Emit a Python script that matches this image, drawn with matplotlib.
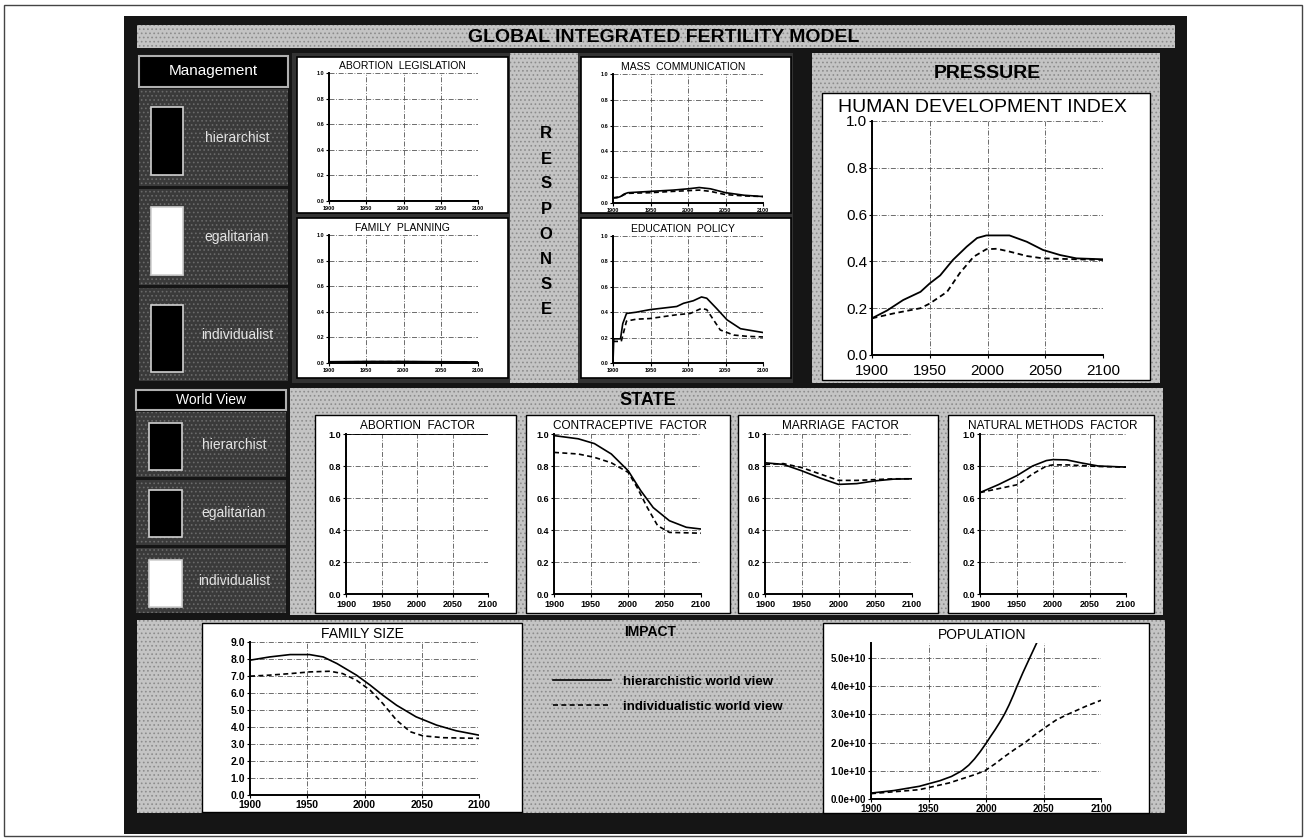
import matplotlib
matplotlib.use("Agg")
import matplotlib.pyplot as plt
from matplotlib.patches import Rectangle
from matplotlib.ticker import FormatStrFormatter, FuncFormatter

plt.rcParams['font.family'] = ['Liberation Sans', 'DejaVu Sans']
plt.rcParams['hatch.linewidth'] = 0.7

# ---- data (hier = solid, indiv = dashed) ----
x_ticks = [1900, 1950, 2000, 2050, 2100]
unit_ticks = [0.0, 0.2, 0.4, 0.6, 0.8, 1.0]
fs_ticks = [0, 1, 2, 3, 4, 5, 6, 7, 8, 9]
pop_ticks = [0.0, 1.0e10, 2.0e10, 3.0e10, 4.0e10, 5.0e10]

abl_years = [1900, 2100]
abl_hier = [0.0, 0.0]
abl_indiv = [0.0, 0.0]

fp_years = [1900, 1950, 2000, 2050, 2100]
fp_hier = [0.01, 0.012, 0.012, 0.01, 0.008]
fp_indiv = [0.008, 0.01, 0.01, 0.008, 0.006]

mc_hier_years = [1900, 1905, 1910, 1915, 1920, 1950, 1980, 2000, 2015, 2030, 2050, 2075, 2100]
mc_hier = [0.04, 0.04, 0.05, 0.07, 0.08, 0.09, 0.10, 0.11, 0.12, 0.11, 0.08, 0.06, 0.05]
mc_indiv_years = [1900, 1910, 1915, 1920, 1950, 1980, 2015, 2030, 2050, 2075, 2100]
mc_indiv = [0.04, 0.05, 0.065, 0.075, 0.08, 0.09, 0.10, 0.09, 0.065, 0.055, 0.05]

ep_hier_years = [1900, 1901, 1910, 1913, 1918, 1931, 1949, 1985, 1994, 2007, 2018, 2025, 2038, 2052, 2070, 2100]
ep_hier = [0.0, 0.19, 0.19, 0.31, 0.39, 0.40, 0.42, 0.445, 0.47, 0.49, 0.52, 0.51, 0.43, 0.34, 0.27, 0.24]
ep_indiv_years = [1900, 1911, 1918, 1931, 1949, 1985, 2003, 2018, 2025, 2043, 2061, 2079, 2100]
ep_indiv = [0.17, 0.17, 0.33, 0.345, 0.35, 0.38, 0.39, 0.43, 0.42, 0.26, 0.22, 0.21, 0.205]

hdi_hier_years = [1900, 1913, 1927, 1942, 1950, 1959, 1970, 1982, 1991, 1999, 2019, 2034, 2048, 2063, 2077, 2100]
hdi_hier = [0.157, 0.19, 0.235, 0.27, 0.306, 0.34, 0.406, 0.463, 0.50, 0.511, 0.511, 0.484, 0.449, 0.427, 0.413, 0.409]
hdi_indiv_years = [1900, 1919, 1942, 1950, 1965, 1976, 1988, 1999, 2008, 2019, 2034, 2048, 2100]
hdi_indiv = [0.157, 0.178, 0.20, 0.22, 0.27, 0.35, 0.42, 0.452, 0.454, 0.442, 0.423, 0.413, 0.406]

af_years = [1900, 2100]
af_hier = [1.0, 1.0]
af_indiv = [1.0, 1.0]

cf_hier_years = [1900, 1933, 1955, 1978, 2001, 2018, 2035, 2057, 2080, 2100]
cf_hier = [0.99, 0.97, 0.94, 0.875, 0.77, 0.646, 0.54, 0.458, 0.417, 0.406]
cf_indiv_years = [1900, 1933, 1955, 1978, 2001, 2013, 2027, 2041, 2057, 2100]
cf_indiv = [0.885, 0.875, 0.854, 0.82, 0.76, 0.667, 0.54, 0.427, 0.385, 0.38]

mf_years = [1900, 1925, 1950, 1975, 2000, 2025, 2050, 2075, 2100]
mf_hier = [0.82, 0.81, 0.77, 0.725, 0.685, 0.69, 0.707, 0.718, 0.72]
mf_indiv = [0.81, 0.815, 0.79, 0.75, 0.71, 0.71, 0.715, 0.72, 0.72]

nm_years = [1900, 1925, 1951, 1972, 1991, 2000, 2019, 2038, 2062, 2100]
nm_hier = [0.634, 0.683, 0.741, 0.80, 0.834, 0.84, 0.838, 0.82, 0.80, 0.793]
nm_indiv = [0.634, 0.658, 0.683, 0.75, 0.80, 0.807, 0.807, 0.803, 0.797, 0.793]

fs_hier_years = [1900, 1917, 1935, 1952, 1964, 1976, 1993, 2005, 2016, 2028, 2045, 2063, 2080, 2100]
fs_hier = [7.93, 8.12, 8.26, 8.26, 8.12, 7.73, 7.05, 6.46, 5.87, 5.28, 4.6, 4.11, 3.78, 3.52]
fs_indiv_years = [1900, 1917, 1935, 1952, 1970, 1981, 1993, 2005, 2016, 2028, 2040, 2051, 2069, 2100]
fs_indiv = [6.99, 7.05, 7.14, 7.24, 7.28, 7.14, 6.75, 6.16, 5.38, 4.4, 3.72, 3.48, 3.37, 3.33]

pop_hier_years = [1900, 1920, 1942, 1960, 1970, 1979, 1985, 1990, 1995, 2000, 2004, 2008,
                  2012, 2016, 2020, 2024, 2027, 2032, 2038, 2046]
pop_hier = [0.21e10, 0.30e10, 0.45e10, 0.65e10, 0.80e10, 1.0e10, 1.2e10, 1.42e10, 1.68e10,
            1.97e10, 2.22e10, 2.46e10, 2.72e10, 3.0e10, 3.33e10, 3.7e10, 4.0e10, 4.47e10,
            5.0e10, 5.7e10]
pop_indiv_years = [1900, 1942, 1968, 1990, 1999, 2008, 2016, 2025, 2034, 2043, 2052, 2061,
                   2071, 2087, 2100]
pop_indiv = [0.19e10, 0.33e10, 0.57e10, 0.86e10, 1.0e10, 1.25e10, 1.5e10, 1.76e10, 2.0e10,
             2.29e10, 2.55e10, 2.8e10, 3.0e10, 3.29e10, 3.5e10]

legend_labels = ["hierarchistic world view", "individualistic world view"]
buttons = ["hierarchist", "egalitarian", "individualist"]

# ---- figure in pixel coordinates ----
W, H = 1304, 838
fig = plt.figure(figsize=(W / 100, H / 100), dpi=100)
bg = fig.add_axes([0, 0, 1, 1], zorder=0)
bg.set_xlim(0, W)
bg.set_ylim(H, 0)
bg.axis('off')


def rect(x0, y0, x1, y1):
    return [x0 / W, 1 - y1 / H, (x1 - x0) / W, (y1 - y0) / H]


def box(x0, y0, x1, y1, fc, ec='none', lw=0, hatch=None, hc=None):
    bg.add_patch(Rectangle((x0, y0), x1 - x0, y1 - y0, fc=fc, ec=ec, lw=lw))
    if hatch:
        bg.add_patch(Rectangle((x0, y0), x1 - x0, y1 - y0, fill=False,
                               hatch=hatch, ec=hc, lw=0))


def light(x0, y0, x1, y1):
    box(x0, y0, x1, y1, '#c4c4c4', hatch='....', hc='#8c8c8c')


def dark(x0, y0, x1, y1):
    box(x0, y0, x1, y1, '#3a3a3a', hatch='....', hc='#6a6a6a')


# page and dashboard frame
bg.add_patch(Rectangle((4, 5), 1298, 831, fill=False, ec='#444444', lw=1))
box(124, 16, 1187, 834, '#151515')
light(137, 25, 1175, 48)
bg.text(664, 37, "GLOBAL INTEGRATED FERTILITY MODEL", fontsize=14,
        fontweight='bold', ha='center', va='center')

# management column
box(139, 56, 288, 87, 'black', ec='#b0b0b0', lw=1.5)
bg.text(213, 71, "Management", color='white', fontsize=11, ha='center', va='center')
btn_top = [(89, 186), (189, 285), (288, 381)]
btn_sq = [(107, 175, 'black'), (207, 275, 'white'), (305, 372, 'black')]
for (y0, y1), (s0, s1, c), lab in zip(btn_top, btn_sq, buttons):
    dark(139, y0, 288, y1)
    box(151, s0, 183, s1, c, ec='#d0d0d0', lw=1.2)
    bg.text(237, (y0 + y1) / 2, lab, color='#e4e4e4', fontsize=10,
            ha='center', va='center')

# response area
box(292, 53, 510, 383, '#333333')
box(578, 53, 793, 383, '#333333')
for x0, x1 in [(297, 508), (581, 791)]:
    box(x0, 57, x1, 213, 'white', ec='black', lw=1.2)
    box(x0, 218, x1, 378, 'white', ec='black', lw=1.2)
light(510, 53, 578, 383)
for i, ch in enumerate("RESPONSE"):
    bg.text(546, 134 + 25 * i, ch, fontsize=12, fontweight='bold',
            ha='center', va='center')

# pressure
light(812, 53, 1160, 383)
box(822, 93, 1150, 380, 'white', ec='black', lw=1)
bg.text(987, 73, "PRESSURE", fontsize=14, fontweight='bold', ha='center', va='center')
bg.text(982, 107, "HUMAN DEVELOPMENT INDEX", fontsize=14, ha='center', va='center')

# state
box(136, 390, 286, 410, 'black', ec='#b0b0b0', lw=1.5)
bg.text(211, 400, "World View", color='white', fontsize=10, ha='center', va='center')
wv_top = [(412, 477), (480, 545), (548, 613)]
wv_sq = [(423, 470, 'black'), (490, 537, 'black'), (560, 607, 'white')]
for (y0, y1), (s0, s1, c), lab in zip(wv_top, wv_sq, buttons):
    dark(136, y0, 286, y1)
    box(149, s0, 182, s1, c, ec='#d0d0d0', lw=1.2)
    bg.text(234, (y0 + y1) / 2, lab, color='#e4e4e4', fontsize=10,
            ha='center', va='center')
light(290, 388, 1163, 615)
bg.text(648, 400, "STATE", fontsize=13, fontweight='bold', ha='center', va='center')
state_boxes = [(315, 516), (526, 730), (738, 938), (948, 1154)]
for x0, x1 in state_boxes:
    box(x0, 415, x1, 613, 'white', ec='black', lw=1)

# impact
light(137, 620, 1165, 813)
box(202, 623, 522, 812, 'white', ec='black', lw=1)
box(823, 623, 1149, 813, 'white', ec='black', lw=1)
bg.text(650, 632, "IMPACT", fontsize=10, fontweight='bold', ha='center', va='center')


def chart(px, xh, yh, xi, yi, ylim, yticks, fs, bold=True, ylabfmt='%.1f', lw=1.2, xpad=1):
    ax = fig.add_axes(rect(*px), zorder=2)
    ax.set_facecolor('none')
    lh, = ax.plot(xh, yh, color='black', lw=lw)
    li, = ax.plot(xi, yi, color='black', lw=lw, ls=(0, (3, 2)))
    ax.set_xlim(1900, 2100)
    ax.set_ylim(*ylim)
    ax.set_xticks(x_ticks)
    ax.set_yticks(yticks)
    if ylabfmt:
        ax.yaxis.set_major_formatter(FormatStrFormatter(ylabfmt))
    for s in ['top', 'right']:
        ax.spines[s].set_visible(False)
    for s in ['left', 'bottom']:
        ax.spines[s].set_linewidth(1.4)
    ax.tick_params(direction='out', length=2.5, width=0.8, labelsize=fs, pad=1)
    ax.tick_params(axis='x', pad=xpad)
    ax.grid(True, color='#555555', lw=0.6, ls=(0, (6, 2, 1, 2)))
    if bold:
        for t in ax.get_xticklabels() + ax.get_yticklabels():
            t.set_fontweight('bold')
    return ax, lh, li


def title(x, y, s, fs):
    bg.text(x, y, s, fontsize=fs, ha='center', va='center')


# response charts
chart((329, 73, 478, 201), abl_years, abl_hier, abl_years, abl_indiv, (0, 1), unit_ticks, 4)
title(402, 66, "ABORTION  LEGISLATION", 7.5)
chart((329, 235, 478, 363), fp_years, fp_hier, fp_years, fp_indiv, (0, 1), unit_ticks, 4)
title(402, 228, "FAMILY  PLANNING", 7.5)
chart((613, 74, 763, 203), mc_hier_years, mc_hier, mc_indiv_years, mc_indiv, (0, 1), unit_ticks, 4)
title(683, 67, "MASS  COMMUNICATION", 7.5)
chart((613, 236, 763, 363), ep_hier_years, ep_hier, ep_indiv_years, ep_indiv, (0, 1), unit_ticks, 4)
title(683, 229, "EDUCATION  POLICY", 7.5)

# pressure chart
chart((872, 121, 1103, 355), hdi_hier_years, hdi_hier, hdi_indiv_years, hdi_indiv,
      (0, 1), unit_ticks, 11, bold=False, lw=1.3, xpad=4)

# state charts
state_axes = [(346, 488), (554, 701), (765, 912), (980, 1126)]
state_data = [(af_years, af_hier, af_years, af_indiv),
              (cf_hier_years, cf_hier, cf_indiv_years, cf_indiv),
              (mf_years, mf_hier, mf_years, mf_indiv),
              (nm_years, nm_hier, nm_years, nm_indiv)]
state_titles = ["ABORTION  FACTOR", "CONTRACEPTIVE  FACTOR",
                "MARRIAGE  FACTOR", "NATURAL METHODS  FACTOR"]
for (x0, x1), d in zip(state_axes, state_data):
    chart((x0, 434, x1, 594), *d, (0, 1), unit_ticks, 6.5, xpad=2)
for (x0, x1), t in zip(state_boxes, state_titles):
    title((x0 + x1) / 2 + 2, 426, t, 8.5)

# impact charts
chart((250, 642, 479, 795), fs_hier_years, fs_hier, fs_indiv_years, fs_indiv,
      (0, 9), fs_ticks, 7.5)
title(362, 634, "FAMILY SIZE", 10)
ax_pop, l_h, l_i = chart((871, 643, 1101, 799), pop_hier_years, pop_hier,
                         pop_indiv_years, pop_indiv, (0, 5.53e10), pop_ticks, 7, ylabfmt=None)
ax_pop.yaxis.set_major_formatter(FuncFormatter(lambda v, p: '%.1e' % v))
for t in ax_pop.get_yticklabels():
    t.set_fontweight('bold')
title(982, 635, "POPULATION", 10)

fig.legend([l_h, l_i], legend_labels, loc='center left',
           bbox_to_anchor=(553 / W, 1 - 694 / H), frameon=False,
           prop={'weight': 'bold', 'size': 9.5},
           handlelength=4.4, handletextpad=0.9, labelspacing=0.95,
           borderpad=0, borderaxespad=0)

fig.savefig("out.png", dpi=100)
